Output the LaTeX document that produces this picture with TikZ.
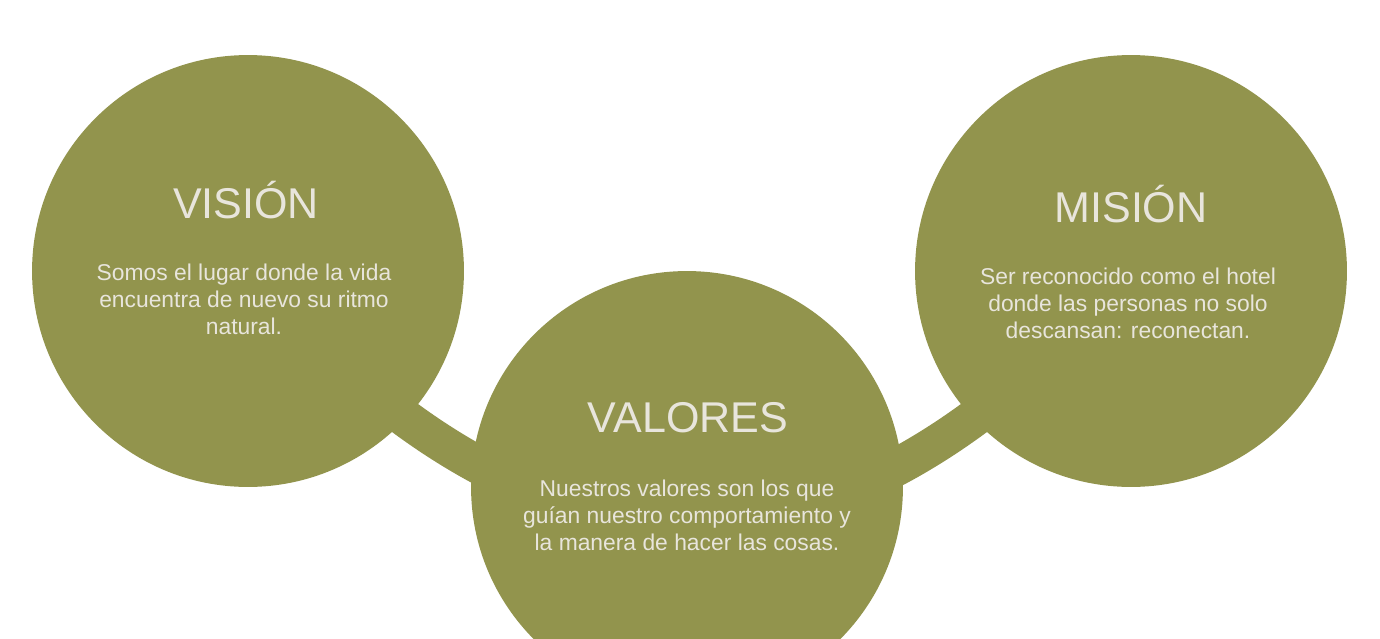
\documentclass[tikz,border=0pt]{standalone}
\usepackage{fontspec}
\setmainfont{Liberation Sans}
\usetikzlibrary{positioning, backgrounds}

\definecolor{leaf}{HTML}{92944D}
\definecolor{paper}{HTML}{E8E5DC}

\begin{document}
\begin{tikzpicture}[
    x=0.02cm, y=-0.02cm,
    disc/.style={circle, fill=leaf, minimum size=8.64cm, inner sep=0pt},
    heading/.style={text=paper, font=\fontsize{24.5}{28}\selectfont},
    blurb/.style={text=paper, align=center, font=\fontsize{13}{15.3}\selectfont},
    band/.style={draw=leaf, line width=0.76cm},
]
\useasboundingbox (0,0) rectangle (1380,639);
\clip (0,0) rectangle (1380,639);

% the three circles
\node[disc] (vis) at (248,271) {};
\node[disc] (val) at (687,487) {};
\node[disc] (mis) at (1131,271) {};

% band behind them
\begin{pgfonlayer}{background}
\draw[band] (vis.center) .. controls +(294,335) and +(-294,335) .. (mis.center);
\end{pgfonlayer}

% texts
\node[heading] (vis-title) at (246,200) {VISIÓN};
\node[blurb] (vis-text) at (244,299) {Somos el lugar donde la vida\\encuentra de nuevo su ritmo\\natural.};

\node[heading] (val-title) at (688,418) {VALORES};
\node[blurb] (val-text) at (687,515) {Nuestros valores son los que\\guían nuestro comportamiento y\\la manera de hacer las cosas.};

\node[heading] (mis-title) at (1131,204) {MISIÓN};
\node[blurb] (mis-text) at (1128,303) {Ser reconocido como el hotel\\donde las personas no solo\\descansan: reconectan.};
\end{tikzpicture}
\end{document}
